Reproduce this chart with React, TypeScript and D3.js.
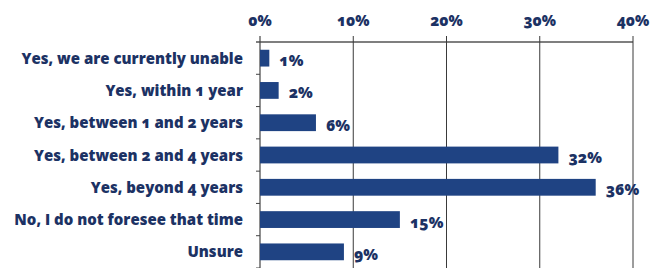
import React from "react";
import * as d3 from "d3";

const categories = [
  "Yes, we are currently unable",
  "Yes, within 1 year",
  "Yes, between 1 and 2 years",
  "Yes, between 2 and 4 years",
  "Yes, beyond 4 years",
  "No, I do not foresee that time",
  "Unsure",
];
const values = [1, 2, 6, 32, 36, 15, 9];
const tickValues = [0, 10, 20, 30, 40];

const W = 660;
const H = 268;
const FONT = "'Open Sans', sans-serif";
const TEXT = "#1c3264";
const BAR = "#1f4383";
const GRID = "#3a3a3a";

export default function App() {
  const x = d3.scaleLinear().domain([0, 40]).range([260, 633]);
  const y = d3.scaleBand<string>().domain(categories).range([42, 268]).paddingInner(0.48).paddingOuter(0.24);
  const step = y.step();
  const bandStart = 42;

  const textStyle = { fontFeatureSettings: "'onum'" } as React.CSSProperties;

  return (
    <div style={{ position: "fixed", left: 0, top: 0 }}>
      <svg width={W} height={H} style={{ display: "block", background: "#fff" }}>
        <line x1={x(0) - 4} x2={x(40)} y1={bandStart} y2={bandStart} stroke="#555" strokeWidth={1.5} />
        {tickValues.map((t) => (
          <g key={t}>
            <line x1={x(t)} x2={x(t)} y1={bandStart - 6} y2={H} stroke={t === 0 ? "#444" : GRID} strokeWidth={t === 0 ? 1.2 : 1} />
            <text
              x={x(t)}
              y={26}
              textAnchor="middle"
              fontFamily={FONT}
              fontWeight={800}
              fontSize={15}
              fill={TEXT}
              style={textStyle}
            >
              {t}%
            </text>
          </g>
        ))}
        {categories.map((c, i) => (
          <line key={"lt" + i} x1={x(0) - 4} x2={x(0)} y1={bandStart + step * (i + 1)} y2={bandStart + step * (i + 1)} stroke="#444" strokeWidth={1} />
        ))}
        {categories.map((c, i) => (
          <rect key={"b" + i} x={x(0)} y={y(c)!} width={x(values[i]) - x(0)} height={y.bandwidth()} fill={BAR} />
        ))}
        {categories.map((c, i) => (
          <text
            key={"v" + i}
            x={x(values[i]) + 10}
            y={y(c)! + y.bandwidth() / 2 + 8}
            fontFamily={FONT}
            fontWeight={800}
            fontSize={15.5}
            fill={TEXT}
            style={textStyle}
          >
            {values[i]}%
          </text>
        ))}
        {categories.map((c, i) => (
          <text
            key={"c" + i}
            x={243}
            y={y(c)! + y.bandwidth() / 2 + 5.5}
            textAnchor="end"
            fontFamily={FONT}
            fontWeight={800}
            fontSize={15}
            fill={TEXT}
            style={textStyle}
          >
            {c}
          </text>
        ))}
      </svg>
    </div>
  );
}
